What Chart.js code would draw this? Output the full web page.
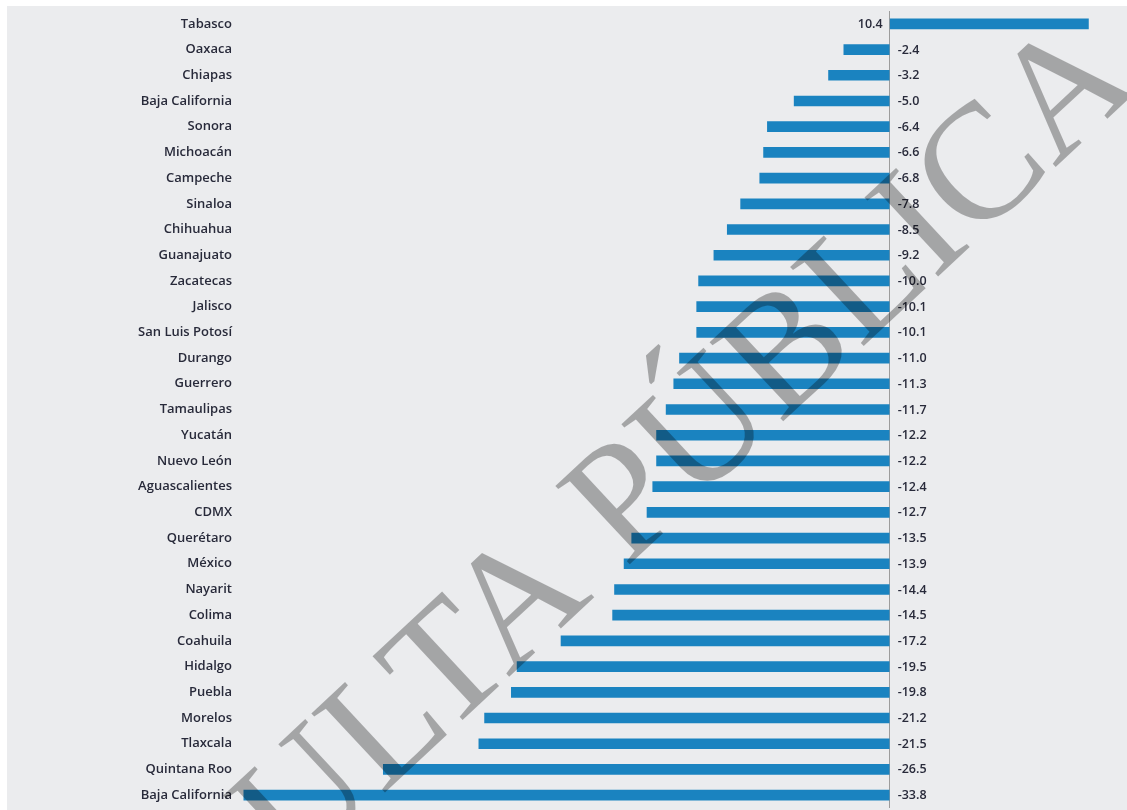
<!DOCTYPE html>
<html>
<head>
<meta charset="utf-8">
<script src="https://cdn.jsdelivr.net/npm/chart.js@4/dist/chart.umd.min.js"></script>
<style>
  html, body { margin: 0; padding: 0; background: #fff; }
  #wrap { width: 1127px; height: 810px; }
</style>
</head>
<body>
<div id="wrap"><canvas id="myChart" width="1127" height="810"></canvas></div>
<script>
const states = ['Tabasco', 'Oaxaca', 'Chiapas', 'Baja California', 'Sonora', 'Michoacán', 'Campeche',
  'Sinaloa', 'Chihuahua', 'Guanajuato', 'Zacatecas', 'Jalisco', 'San Luis Potosí', 'Durango',
  'Guerrero', 'Tamaulipas', 'Yucatán', 'Nuevo León', 'Aguascalientes', 'CDMX', 'Querétaro',
  'México', 'Nayarit', 'Colima', 'Coahuila', 'Hidalgo', 'Puebla', 'Morelos', 'Tlaxcala',
  'Quintana Roo', 'Baja California'];
const values = [10.4, -2.4, -3.2, -5.0, -6.4, -6.6, -6.8, -7.8, -8.5, -9.2, -10.0, -10.1, -10.1,
  -11.0, -11.3, -11.7, -12.2, -12.2, -12.4, -12.7, -13.5, -13.9, -14.4, -14.5, -17.2, -19.5,
  -19.8, -21.2, -21.5, -26.5, -33.8];
const watermark = 'CONSULTA PÚBLICA';

const textColor = '#282a3a';
const font = '"Open Sans", sans-serif';

// gray panel behind the chart
const panel = {
  id: 'panel',
  beforeDraw(chart) {
    const c = chart.ctx;
    c.save();
    c.fillStyle = '#ffffff';
    c.fillRect(0, 0, chart.width, chart.height);
    c.fillStyle = '#ebecee';
    c.fillRect(7, 6, chart.width - 7, chart.height - 6);
    c.restore();
  }
};

// value labels next to the zero line
const valueLabels = {
  id: 'valueLabels',
  afterDatasetsDraw(chart) {
    const c = chart.ctx;
    const zero = chart.scales.x.getPixelForValue(0);
    const meta = chart.getDatasetMeta(0);
    c.save();
    c.font = '600 12.5px ' + font;
    c.fillStyle = textColor;
    c.textBaseline = 'middle';
    meta.data.forEach((bar, i) => {
      const v = values[i];
      if (v < 0) {
        c.textAlign = 'left';
        c.fillText(v.toFixed(1), zero + 8, bar.y + 0.5);
      } else {
        c.textAlign = 'right';
        c.fillText(v.toFixed(1), zero - 7, bar.y + 0.5);
      }
    });
    c.restore();
  }
};

// diagonal watermark over everything
const stamp = {
  id: 'stamp',
  afterDraw(chart) {
    const c = chart.ctx;
    c.save();
    c.translate(557, 632);
    c.rotate(-43 * Math.PI / 180);
    c.font = '165px "Liberation Serif", serif';
    c.fillStyle = 'rgba(0, 0, 0, 0.3)';
    c.textAlign = 'center';
    c.textBaseline = 'alphabetic';
    c.fillText(watermark, 0, 0);
    c.restore();
  }
};

const ctx = document.getElementById('myChart').getContext('2d');
new Chart(ctx, {
  type: 'bar',
  data: {
    labels: states,
    datasets: [{
      data: values,
      backgroundColor: '#1a83c0',
      borderWidth: 0,
      barThickness: 10
    }]
  },
  options: {
    indexAxis: 'y',
    responsive: false,
    animation: false,
    layout: { padding: { top: 11, bottom: 2, right: 8, left: 0 } },
    plugins: {
      legend: { display: false },
      tooltip: { enabled: false }
    },
    scales: {
      x: {
        min: -34,
        max: 12,
        ticks: { display: false, stepSize: 2 },
        grid: {
          drawTicks: false,
          color: (c) => (c.tick && c.tick.value === 0 ? '#9c9c9c' : 'transparent'),
          lineWidth: 1
        },
        border: { display: false },
        afterFit(scale) { scale.height = 0; }
      },
      y: {
        grid: { display: false, drawTicks: false },
        border: { display: false },
        ticks: {
          color: textColor,
          font: { family: font, size: 13, weight: '600' },
          padding: 8
        },
        afterFit(scale) {
          scale.width = 240;
          scale.paddingTop = 0;
          scale.paddingBottom = 0;
        }
      }
    }
  },
  plugins: [panel, valueLabels, stamp]
});
</script>
</body>
</html>
